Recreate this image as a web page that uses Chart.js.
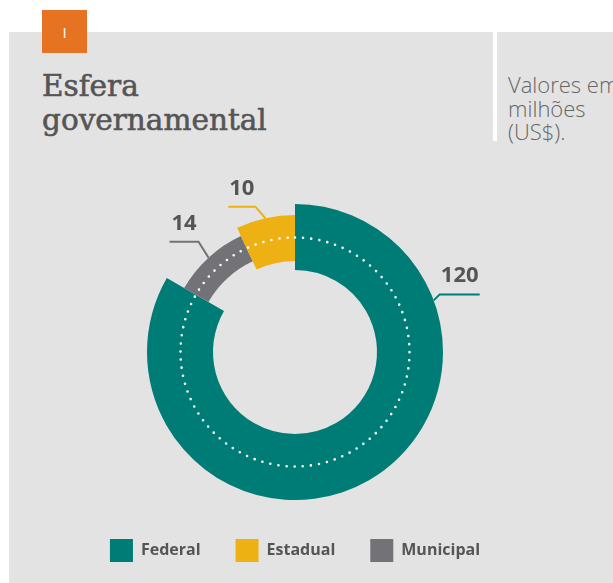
<!DOCTYPE html>
<html lang="pt">
<head>
<meta charset="utf-8">
<title>Esfera governamental</title>
<script src="https://cdn.jsdelivr.net/npm/chart.js@4.4.1/dist/chart.umd.min.js"></script>
<style>
  html, body { margin: 0; padding: 0; background: #fff; }
  #page { position: relative; width: 613px; height: 583px; overflow: hidden; }
  #panel { position: absolute; left: 9px; top: 32px; width: 604px; height: 551px; background: #e3e3e3; }
  #divider { position: absolute; left: 493px; top: 32px; width: 4px; height: 109px; background: #fff; }
  #tag { position: absolute; left: 42px; top: 10px; width: 45px; height: 43px; background: #e57322;
         color: #fff; font: 15px "Open Sans", sans-serif; text-align: center; line-height: 45px; }
  #title { position: absolute; left: 42px; top: 69px; color: #555; font: 29.5px/34px "DejaVu Serif", serif;
           -webkit-text-stroke: 0.6px #555; }
  #note { position: absolute; left: 508px; top: 73px; color: #666; font: 300 22px/23.5px "Open Sans", sans-serif;
          white-space: nowrap; }
  #chart { position: absolute; left: 0; top: 0; }
</style>
</head>
<body>
<div id="page">
  <div id="panel"></div>
  <div id="divider"></div>
  <div id="tag">I</div>
  <div id="title">Esfera<br>governamental</div>
  <div id="note">Valores em<br>milhões<br>(US$).</div>
  <canvas id="chart" width="613" height="583"></canvas>
</div>
<script>
  // clockwise from the top: Federal, Municipal, Estadual
  const labels = ['Federal', 'Municipal', 'Estadual'];
  const values = [120, 14, 10];
  const legendOrder = ['Federal', 'Estadual', 'Municipal'];

  const colors = ['#007c77', '#737377', '#eeb113'];
  const textColor = '#555555';

  // ring thickness per slice, in px from the centre
  const ringOuter = [148, 128, 137];
  const ringInner = [82, 100, 91];
  const dotRadius = 114.5;

  // leader lines: where on the arc (0..1), elbow offset, horizontal run
  const leaders = [
    { at: 0.232, dx: 6, dy: -6, run: 40 },
    { at: 0.5, dx: -10, dy: -16, run: -29 },
    { at: 0.5, dx: -10, dy: -11.6, run: -27 }
  ];

  const ringPlugin = {
    id: 'ring',
    afterDatasetsUpdate(chart) {
      const meta = chart.getDatasetMeta(0);
      meta.data.forEach((arc, i) => {
        arc.outerRadius = ringOuter[i];
        arc.innerRadius = ringInner[i];
      });
    },
    afterDatasetsDraw(chart) {
      const ctx = chart.ctx;
      const meta = chart.getDatasetMeta(0);
      const first = meta.data[0];
      const cx = first.x, cy = first.y;

      // dotted guide circle
      ctx.save();
      ctx.strokeStyle = '#fff';
      ctx.lineWidth = 2.6;
      ctx.lineCap = 'round';
      ctx.setLineDash([0, 2 * Math.PI * dotRadius / 88]);
      ctx.beginPath();
      ctx.arc(cx, cy, dotRadius, -Math.PI / 2, 1.5 * Math.PI);
      ctx.stroke();
      ctx.restore();

      // value labels with leader lines
      ctx.save();
      meta.data.forEach((arc, i) => {
        const l = leaders[i];
        const a = arc.startAngle + (arc.endAngle - arc.startAngle) * l.at;
        const x0 = cx + Math.cos(a) * arc.outerRadius;
        const y0 = cy + Math.sin(a) * arc.outerRadius;
        const x1 = x0 + l.dx, y1 = y0 + l.dy;
        const x2 = x1 + l.run;
        ctx.strokeStyle = colors[i];
        ctx.lineWidth = 2;
        ctx.beginPath();
        ctx.moveTo(x0, y0);
        ctx.lineTo(x1, y1);
        ctx.lineTo(x2, y1);
        ctx.stroke();

        ctx.fillStyle = textColor;
        ctx.font = 'bold 22px "Open Sans", sans-serif';
        ctx.textAlign = 'center';
        ctx.textBaseline = 'alphabetic';
        ctx.fillText(String(values[i]), (x1 + x2) / 2, y1 - 12);
      });
      ctx.restore();
    }
  };

  new Chart(document.getElementById('chart'), {
    type: 'doughnut',
    data: {
      labels: labels,
      datasets: [{
        data: values,
        backgroundColor: colors,
        borderWidth: 0,
        radius: 148,
        cutout: 82
      }]
    },
    options: {
      responsive: false,
      animation: false,
      events: [],
      layout: { padding: { top: 200, bottom: 11, left: 0, right: 23 } },
      plugins: {
        tooltip: { enabled: false },
        legend: {
          position: 'bottom',
          labels: {
            boxWidth: 23,
            boxHeight: 23,
            padding: 35,
            color: textColor,
            font: { family: '"Open Sans", sans-serif', size: 16, weight: 'bold' },
            sort: (a, b) => legendOrder.indexOf(a.text) - legendOrder.indexOf(b.text)
          }
        }
      }
    },
    plugins: [ringPlugin]
  });
</script>
</body>
</html>
